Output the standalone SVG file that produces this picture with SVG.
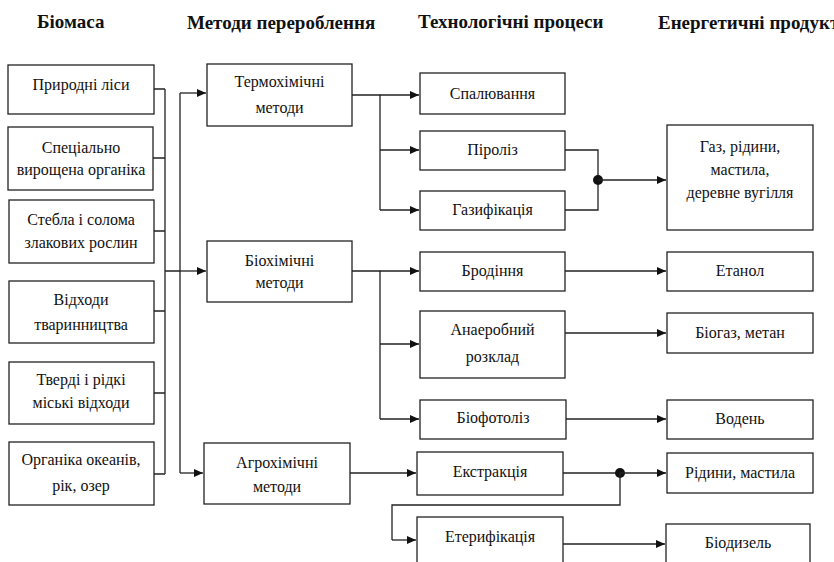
<svg xmlns="http://www.w3.org/2000/svg" width="834" height="562" viewBox="0 0 834 562">
<defs>
<marker id="ah" markerWidth="10" markerHeight="8" refX="9" refY="4" orient="auto" markerUnits="userSpaceOnUse">
<path d="M0,0 L9,4 L0,8 Z" fill="#111"/>
</marker>
<style>
.box{fill:#fff;stroke:#222;stroke-width:1.3}
.t{font-family:"Liberation Serif","Times New Roman",serif;font-size:16px;fill:#111;text-anchor:middle}
.h{font-family:"Liberation Serif","Times New Roman",serif;font-size:19px;font-weight:bold;fill:#111}
.ln{fill:none;stroke:#222;stroke-width:1.3}
.ar{fill:none;stroke:#222;stroke-width:1.3;marker-end:url(#ah)}
</style>
</defs>
<rect width="834" height="562" fill="#fff"/>
<g id="headers">
<text class="h" x="37" y="28">Біомаса</text>
<text class="h" x="187" y="29">Методи перероблення</text>
<text class="h" x="418" y="28">Технологічні процеси</text>
<text class="h" x="658" y="29">Енергетичні продукти</text>
</g>
<g id="connectors">
<path class="ln" d="M154,89 H165 M153,158 H165 M154,231 H165 M154,311 H165 M154,393 H165 M154,474 H165 M165,89 V474 M165,271 H180 M180,93 V473"/>
<path class="ar" d="M180,93 H206"/>
<path class="ar" d="M180,271 H206"/>
<path class="ar" d="M180,473 H203"/>
<path class="ln" d="M352,95 H380 V210"/>
<path class="ar" d="M380,95 H419"/>
<path class="ar" d="M380,150 H419"/>
<path class="ar" d="M380,210 H419"/>
<path class="ln" d="M565,150 H598 V210 H565"/>
<circle cx="598" cy="180" r="5" fill="#111"/>
<path class="ar" d="M598,180 H666"/>
<path class="ln" d="M352,271 H380 V419"/>
<path class="ar" d="M380,271 H419"/>
<path class="ar" d="M380,344 H419"/>
<path class="ar" d="M380,419 H419"/>
<path class="ar" d="M565,271 H666"/>
<path class="ar" d="M565,333 H666"/>
<path class="ar" d="M566,419 H666"/>
<path class="ar" d="M350,473 H416"/>
<path class="ln" d="M563,473 H620"/>
<circle cx="620" cy="473" r="5" fill="#111"/>
<path class="ar" d="M620,473 H666"/>
<path class="ln" d="M620,473 V505 H392 V540"/>
<path class="ar" d="M392,540 H416"/>
<path class="ar" d="M563,544 H665"/>
</g>
<g id="n-lisy"><rect class="box" x="8" y="65" width="146" height="49"/><text class="t" x="81" y="90">Природні ліси</text></g>
<g id="n-spets"><rect class="box" x="8" y="127" width="145" height="63"/><text class="t" x="81" y="153">Спеціально</text><text class="t" x="81" y="175">вирощена органіка</text></g>
<g id="n-stebla"><rect class="box" x="9" y="200" width="145" height="63"/><text class="t" x="81" y="225">Стебла і солома</text><text class="t" x="81" y="248">злакових рослин</text></g>
<g id="n-vidkhody"><rect class="box" x="9" y="281" width="145" height="62"/><text class="t" x="81" y="305">Відходи</text><text class="t" x="81" y="330">тваринництва</text></g>
<g id="n-miski"><rect class="box" x="9" y="362" width="145" height="62"/><text class="t" x="81" y="385">Тверді і рідкі</text><text class="t" x="81" y="408">міські відходи</text></g>
<g id="n-okean"><rect class="box" x="9" y="442" width="145" height="63"/><text class="t" x="81" y="465">Органіка океанів,</text><text class="t" x="81" y="491">рік, озер</text></g>
<g id="n-termo"><rect class="box" x="207" y="64" width="145" height="62"/><text class="t" x="279.5" y="87">Термохімічні</text><text class="t" x="279.5" y="113">методи</text></g>
<g id="n-bio"><rect class="box" x="207" y="241" width="145" height="61"/><text class="t" x="279.5" y="266">Біохімічні</text><text class="t" x="279.5" y="288">методи</text></g>
<g id="n-agro"><rect class="box" x="204" y="443" width="146" height="61"/><text class="t" x="277" y="468">Агрохімічні</text><text class="t" x="277" y="492">методи</text></g>
<g id="n-spal"><rect class="box" x="420" y="73" width="145" height="41"/><text class="t" x="492.5" y="99">Спалювання</text></g>
<g id="n-piroliz"><rect class="box" x="420" y="131" width="145" height="39"/><text class="t" x="492.5" y="155">Піроліз</text></g>
<g id="n-gazyf"><rect class="box" x="420" y="191" width="145" height="39"/><text class="t" x="492.5" y="215">Газифікація</text></g>
<g id="n-brod"><rect class="box" x="420" y="252" width="145" height="39"/><text class="t" x="492.5" y="276">Бродіння</text></g>
<g id="n-anaer"><rect class="box" x="420" y="311" width="145" height="67"/><text class="t" x="492.5" y="335">Анаеробний</text><text class="t" x="492.5" y="362">розклад</text></g>
<g id="n-biofoto"><rect class="box" x="420" y="400" width="146" height="39"/><text class="t" x="493" y="423">Біофотоліз</text></g>
<g id="n-ekstr"><rect class="box" x="417" y="452" width="146" height="43"/><text class="t" x="490" y="477">Екстракція</text></g>
<g id="n-eter"><rect class="box" x="417" y="517" width="146" height="60"/><text class="t" x="490" y="542">Етерифікація</text></g>
<g id="n-gaz"><rect class="box" x="667" y="125" width="146" height="105"/><text class="t" x="740" y="152">Газ, рідини,</text><text class="t" x="740" y="175">мастила,</text><text class="t" x="740" y="198">деревне вугілля</text></g>
<g id="n-etanol"><rect class="box" x="667" y="252" width="146" height="39"/><text class="t" x="740" y="276">Етанол</text></g>
<g id="n-biogaz"><rect class="box" x="667" y="313" width="146" height="40"/><text class="t" x="740" y="338">Біогаз, метан</text></g>
<g id="n-voden"><rect class="box" x="667" y="400" width="146" height="39"/><text class="t" x="740" y="424">Водень</text></g>
<g id="n-ridyny"><rect class="box" x="667" y="453" width="146" height="40"/><text class="t" x="740" y="478">Рідини, мастила</text></g>
<g id="n-biodyzel"><rect class="box" x="666" y="524" width="144" height="50"/><text class="t" x="738" y="548">Біодизель</text></g>
</svg>
